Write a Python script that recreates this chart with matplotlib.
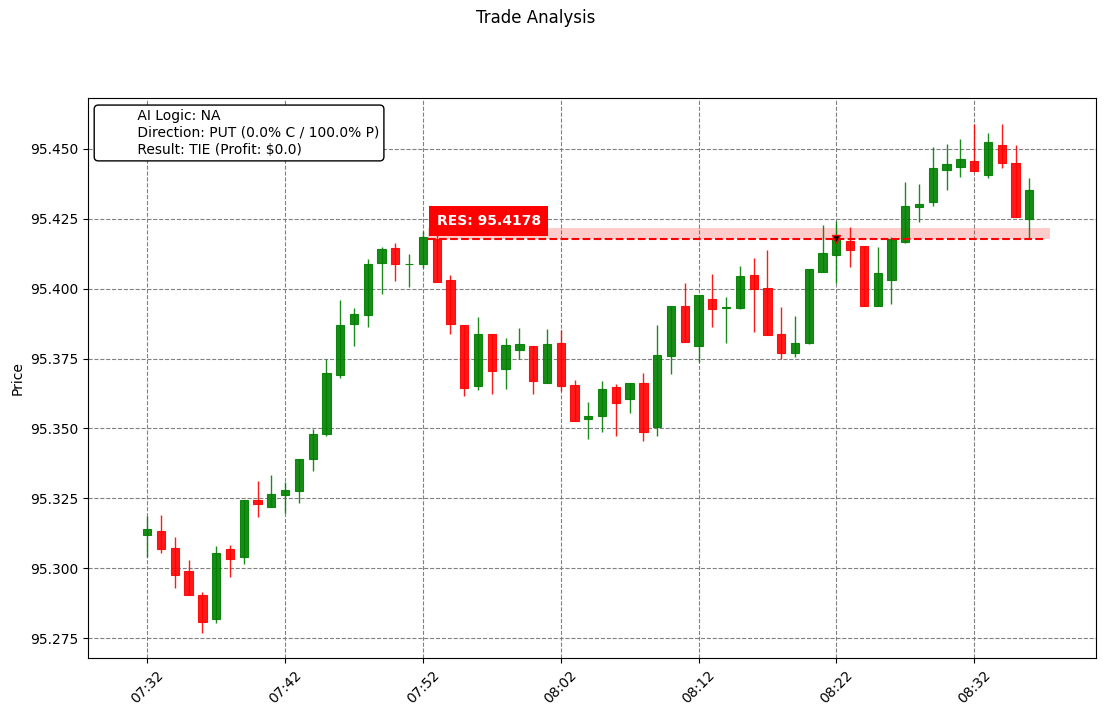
import numpy as np
import pandas as pd
import matplotlib
matplotlib.use('Agg')
import matplotlib.pyplot as plt
import matplotlib.dates as mdates
from matplotlib.ticker import FormatStrFormatter

# one candle per minute, 07:32 .. 08:36
times = pd.date_range('2024-01-01 07:32', periods=65, freq='1min')

opens = [95.3120, 95.3133, 95.3072, 95.2990, 95.2904, 95.2819, 95.3069, 95.3041,
         95.3244, 95.3220, 95.3263, 95.3277, 95.3390, 95.3479, 95.3690, 95.3875,
         95.3907, 95.4093, 95.4145, 95.4087, 95.4087, 95.4177, 95.4030, 95.3869,
         95.3653, 95.3837, 95.3714, 95.3782, 95.3794, 95.3664, 95.3805, 95.3654,
         95.3533, 95.3546, 95.3647, 95.3604, 95.3662, 95.3506, 95.3760, 95.3938,
         95.3796, 95.3963, 95.3931, 95.3932, 95.4048, 95.4001, 95.3837, 95.3771,
         95.3807, 95.4059, 95.4120, 95.4170, 95.4152, 95.3939, 95.4032, 95.4168,
         95.4291, 95.4309, 95.4426, 95.4435, 95.4456, 95.4408, 95.4514, 95.4450,
         95.4249]
highs = [95.3187, 95.3189, 95.3111, 95.3028, 95.2914, 95.3079, 95.3082, 95.3244,
         95.3312, 95.3332, 95.3309, 95.3390, 95.3497, 95.3747, 95.3959, 95.3930,
         95.4107, 95.4150, 95.4165, 95.4123, 95.4207, 95.4195, 95.4048, 95.3869,
         95.3898, 95.3837, 95.3823, 95.3859, 95.3794, 95.3855, 95.3851, 95.3672,
         95.3594, 95.3669, 95.3659, 95.3663, 95.3697, 95.3869, 95.3938, 95.4020,
         95.3976, 95.4053, 95.3969, 95.4081, 95.4109, 95.4137, 95.3933, 95.3901,
         95.4069, 95.4227, 95.4243, 95.4220, 95.4152, 95.4148, 95.4184, 95.4381,
         95.4376, 95.4506, 95.4518, 95.4535, 95.4588, 95.4556, 95.4588, 95.4514,
         95.4395]
lows = [95.3040, 95.3053, 95.2928, 95.2905, 95.2767, 95.2803, 95.2967, 95.3014,
        95.3182, 95.3220, 95.3196, 95.3232, 95.3349, 95.3474, 95.3680, 95.3795,
        95.3862, 95.3980, 95.4028, 95.4007, 95.4073, 95.4023, 95.3837, 95.3617,
        95.3636, 95.3622, 95.3640, 95.3747, 95.3622, 95.3664, 95.3635, 95.3526,
        95.3461, 95.3486, 95.3472, 95.3554, 95.3456, 95.3473, 95.3695, 95.3810,
        95.3739, 95.3862, 95.3807, 95.3926, 95.3844, 95.3835, 95.3748, 95.3756,
        95.3801, 95.4059, 95.4022, 95.4077, 95.3939, 95.3939, 95.3944, 95.4163,
        95.4238, 95.4295, 95.4353, 95.4399, 95.4422, 95.4395, 95.4431, 95.4258,
        95.4180]
closes = [95.3140, 95.3070, 95.2977, 95.2905, 95.2808, 95.3053, 95.3034, 95.3244,
          95.3231, 95.3264, 95.3280, 95.3390, 95.3479, 95.3697, 95.3869, 95.3908,
          95.4087, 95.4141, 95.4087, 95.4088, 95.4184, 95.4023, 95.3875, 95.3646,
          95.3837, 95.3707, 95.3797, 95.3801, 95.3671, 95.3801, 95.3653, 95.3526,
          95.3543, 95.3640, 95.3590, 95.3663, 95.3486, 95.3762, 95.3938, 95.3810,
          95.3976, 95.3928, 95.3932, 95.4044, 95.4000, 95.3835, 95.3771, 95.3805,
          95.4069, 95.4127, 95.4180, 95.4137, 95.3939, 95.4056, 95.4179, 95.4295,
          95.4302, 95.4431, 95.4445, 95.4463, 95.4422, 95.4524, 95.4451, 95.4258,
          95.4353]

# trade info
result_price = 95.4178
zone_top = 95.4216
entry_time = '2024-01-01 08:22'
zone_start = '2024-01-01 07:52:22'
zone_end = '2024-01-01 08:37:28'
line_end = '2024-01-01 08:36:59'
label_time = '2024-01-01 07:53'
info_lines = ['AI Logic: NA',
              'Direction: PUT (0.0% C / 100.0% P)',
              'Result: TIE (Profit: $0.0)']

fig = plt.figure(figsize=(11.05, 7.16), dpi=100)
ax = fig.add_axes([0.0799, 0.0806, 0.9117, 0.7825])

x = mdates.date2num(times)
o = np.array(opens)
h = np.array(highs)
l = np.array(lows)
c = np.array(closes)
up = c >= o
colors = np.where(up, 'green', 'red')
width = 0.6 / 1440.0

# wicks, then bodies
ax.vlines(x, l, h, colors=colors, linewidth=1, alpha=0.9, zorder=2)
bottom = np.minimum(o, c)
height = np.maximum(np.abs(c - o), 0.0002)
ax.bar(x, height, width=width, bottom=bottom, color=colors,
       edgecolor=colors, linewidth=0.8, alpha=0.9, zorder=3)

# result zone and line
zs = mdates.date2num(pd.Timestamp(zone_start))
ze = mdates.date2num(pd.Timestamp(zone_end))
le = mdates.date2num(pd.Timestamp(line_end))
ax.fill_between([zs, ze], result_price, zone_top, color='red', alpha=0.2,
                linewidth=0, zorder=1)
ax.hlines(result_price, zs, le, colors='red', linestyles='--', linewidth=1.5,
          zorder=4)

# entry marker
ax.plot(mdates.date2num(pd.Timestamp(entry_time)), result_price, marker='v',
        markersize=6, markerfacecolor='black', markeredgecolor='red',
        markeredgewidth=1, zorder=5)

ax.text(mdates.date2num(pd.Timestamp(label_time)), 95.4242,
        'RES: %.4f' % result_price, color='white', fontsize=10,
        fontweight='bold', ha='left', va='center', zorder=6,
        bbox=dict(boxstyle='square,pad=0.55', facecolor='red',
                  edgecolor='none'))

ax.text(0.01, 0.98, '\n'.join(' ' * 9 + s for s in info_lines),
        transform=ax.transAxes, fontsize=10, va='top', ha='left', zorder=7,
        linespacing=1.25,
        bbox=dict(boxstyle='round', facecolor='white', edgecolor='black'))

# axes
x0 = mdates.date2num(times[0])
ax.set_xlim(x0 - 4.28 / 1440.0, x0 + 68.82 / 1440.0)
ax.set_ylim(95.2678, 95.4682)
ax.set_xticks(mdates.date2num(times[::10]))
ax.xaxis.set_major_formatter(mdates.DateFormatter('%H:%M'))
ax.yaxis.set_major_formatter(FormatStrFormatter('%.3f'))
ax.set_yticks([95.275, 95.300, 95.325, 95.350, 95.375, 95.400, 95.425, 95.450])
plt.setp(ax.get_xticklabels(), rotation=45)
ax.grid(True, color='gray', linestyle='--', linewidth=0.8)
ax.set_axisbelow(True)
ax.set_ylabel('Price')

fig.suptitle('Trade Analysis', x=0.4846, y=0.987, fontsize=12)

fig.savefig('out.png', dpi=100)
